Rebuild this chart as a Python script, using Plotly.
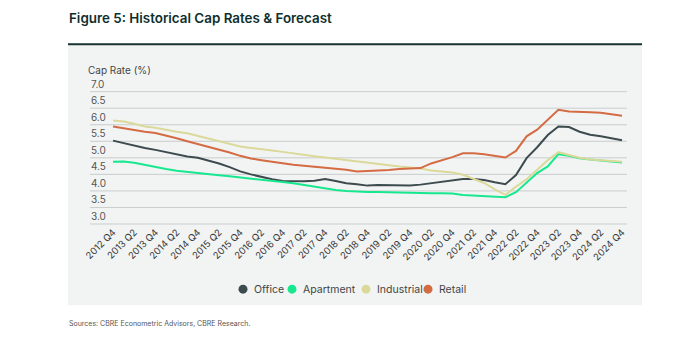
import plotly.graph_objects as go

# Quarterly periods, 2012 Q4 through 2024 Q4
quarters = [f"{y} Q{q}" for y in range(2012, 2025) for q in range(1, 5)][3:]
tick_labels = quarters[::2]

office = [5.52, 5.44, 5.36, 5.30, 5.24, 5.17, 5.09, 5.04, 5.00, 4.92,
          4.83, 4.72, 4.59, 4.50, 4.42, 4.35, 4.30, 4.29, 4.29, 4.31,
          4.36, 4.30, 4.23, 4.20, 4.16, 4.18, 4.18, 4.17, 4.16, 4.19,
          4.23, 4.27, 4.31, 4.36, 4.36, 4.33, 4.26, 4.20, 4.48, 4.99,
          5.32, 5.69, 5.95, 5.93, 5.79, 5.70, 5.65, 5.58, 5.53]
apartment = [4.88, 4.89, 4.85, 4.78, 4.72, 4.66, 4.61, 4.57, 4.53, 4.50,
             4.47, 4.44, 4.41, 4.38, 4.35, 4.31, 4.27, 4.23, 4.18, 4.12,
             4.07, 4.03, 4.00, 3.98, 3.97, 3.97, 3.96, 3.95, 3.93, 3.93,
             3.93, 3.93, 3.92, 3.88, 3.86, 3.83, 3.81, 3.81, 3.96, 4.25,
             4.54, 4.74, 5.11, 5.06, 4.99, 4.95, 4.92, 4.89, 4.86]
industrial = [6.13, 6.10, 6.03, 5.95, 5.91, 5.84, 5.79, 5.74, 5.66, 5.57,
              5.48, 5.41, 5.34, 5.30, 5.27, 5.22, 5.18, 5.13, 5.08, 5.05,
              5.01, 4.97, 4.93, 4.89, 4.84, 4.80, 4.77, 4.74, 4.71, 4.68,
              4.62, 4.60, 4.56, 4.49, 4.37, 4.24, 4.05, 3.88, 4.13, 4.35,
              4.64, 4.93, 5.17, 5.09, 5.00, 4.95, 4.92, 4.90, 4.88]
retail = [5.95, 5.89, 5.83, 5.79, 5.75, 5.68, 5.59, 5.50, 5.42, 5.33,
          5.25, 5.16, 5.06, 4.98, 4.93, 4.88, 4.83, 4.79, 4.76, 4.73,
          4.71, 4.69, 4.64, 4.59, 4.60, 4.61, 4.63, 4.66, 4.67, 4.69,
          4.83, 4.92, 5.02, 5.14, 5.14, 5.11, 5.06, 5.01, 5.21, 5.65,
          5.85, 6.15, 6.45, 6.40, 6.40, 6.38, 6.36, 6.31, 6.27]

series_names = ["Office", "Apartment", "Industrial", "Retail"]
series_values = [office, apartment, industrial, retail]
series_colors = ["#3d4b4f", "#17e88f", "#dbd99a", "#d46b43"]

y_ticks = [3.0, 3.5, 4.0, 4.5, 5.0, 5.5, 6.0, 6.5, 7.0]
Y_MIN, Y_MAX = 3.0, 7.05

W, H = 700, 343
ML, MR, MB = 90, 73, 119
MT = 224 - 33 * (Y_MAX - Y_MIN)
PW, PH = W - ML - MR, H - MT - MB


def px_x(px):
    return (px - ML) / PW


def px_y(py):
    return (H - MB - py) / PH


FONT = "Inter"

fig = go.Figure()
for name, vals, col in zip(series_names, series_values, series_colors):
    fig.add_trace(go.Scatter(x=quarters, y=vals, name=name, mode="lines",
                             line=dict(color=col, width=2), showlegend=False))

# background panel and header rule
shapes = [
    dict(type="rect", xref="paper", yref="paper", layer="below",
         x0=px_x(68), x1=px_x(642), y0=px_y(305), y1=px_y(46),
         fillcolor="#f2f4f4", line=dict(width=0)),
    dict(type="line", xref="paper", yref="paper",
         x0=px_x(68), x1=px_x(642), y0=px_y(44.7), y1=px_y(44.7),
         line=dict(color="#17332f", width=2)),
]

# horizontal gridlines, drawn in the same lower layer right after the panel
for v in y_ticks:
    shapes.append(dict(type="line", xref="paper", yref="paper", layer="below",
                       x0=0, x1=1, y0=(v - Y_MIN) / (Y_MAX - Y_MIN),
                       y1=(v - Y_MIN) / (Y_MAX - Y_MIN),
                       line=dict(color="#c9cdcd", width=1)))

annotations = [
    dict(text="Figure 5: Historical Cap Rates & Forecast", xref="paper", yref="paper",
         x=px_x(67), y=px_y(19), xanchor="left", yanchor="middle", showarrow=False,
         font=dict(family=FONT, size=13.4, color="#0f2f2c", weight=600)),
    dict(text="Cap Rate (%)", xref="paper", yref="paper",
         x=px_x(86), y=px_y(70), xanchor="left", yanchor="middle", showarrow=False,
         font=dict(family=FONT, size=10, color="#444")),
    dict(text="Sources: CBRE Econometric Advisors, CBRE Research.", xref="paper", yref="paper",
         x=px_x(67), y=px_y(323), xanchor="left", yanchor="middle", showarrow=False,
         font=dict(family=FONT, size=7, color="#555")),
]

# y tick labels sit just above their gridlines
for v in y_ticks:
    annotations.append(dict(text=f"{v:.1f}", xref="paper", yref="y",
                            x=px_x(89), y=v, xanchor="left", yanchor="bottom",
                            showarrow=False,
                            font=dict(family=FONT, size=10, color="#555")))

# legend: dot + label per series
legend_dot_x = [243, 292, 366, 428]
legend_y = 289
for name, col, dx in zip(series_names, series_colors, legend_dot_x):
    shapes.append(dict(type="circle", xref="paper", yref="paper",
                       xsizemode="pixel", ysizemode="pixel",
                       xanchor=px_x(dx), yanchor=px_y(legend_y),
                       x0=-4.5, x1=4.5, y0=-4.5, y1=4.5,
                       fillcolor=col, line=dict(width=0)))
    annotations.append(dict(text=name, xref="paper", yref="paper",
                            x=px_x(dx + 9), y=px_y(legend_y), xanchor="left",
                            yanchor="middle", showarrow=False,
                            font=dict(family=FONT, size=10.5, color="#444")))

fig.update_layout(
    width=W, height=H,
    margin=dict(l=ML, r=MR, t=MT, b=MB),
    paper_bgcolor="white", plot_bgcolor="rgba(0,0,0,0)",
    shapes=shapes, annotations=annotations,
    showlegend=False,
    xaxis=dict(type="category", categoryorder="array", categoryarray=quarters,
               range=[-2.17, 48.47], tickmode="array", tickvals=tick_labels,
               ticktext=tick_labels, tickangle=-45, showgrid=False, zeroline=False,
               showline=False, ticks="", tickfont=dict(family=FONT, size=9.5, color="#3a3a3a")),
    yaxis=dict(range=[Y_MIN, Y_MAX], tickmode="array", tickvals=y_ticks,
               showticklabels=False, showgrid=False,
               zeroline=False, showline=False, ticks=""),
)

fig.write_html("out.html")
